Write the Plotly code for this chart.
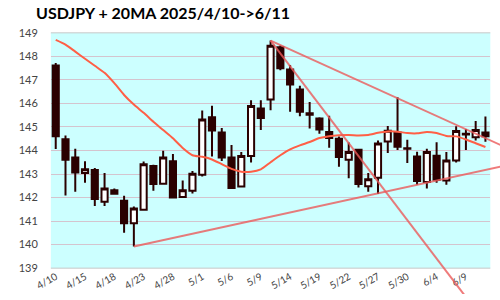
import plotly.graph_objects as go

# ---- data ----
dates = ["4/10","4/11","4/14","4/15","4/16","4/17","4/18","4/21","4/22","4/23",
         "4/24","4/25","4/28","4/29","4/30","5/1","5/2","5/5","5/6","5/7",
         "5/8","5/9","5/12","5/13","5/14","5/15","5/16","5/19","5/20","5/21",
         "5/22","5/23","5/26","5/27","5/28","5/29","5/30","6/2","6/3","6/4",
         "6/5","6/6","6/9","6/10","6/11"]
open_ = [147.61,144.48,143.70,143.04,143.17,141.82,142.31,141.87,140.91,141.48,
         143.34,142.59,143.54,142.02,142.29,142.97,145.41,144.76,143.70,142.47,
         143.77,145.78,146.17,148.39,147.44,146.59,145.52,145.36,144.79,144.50,
         143.61,144.03,142.48,142.84,144.38,144.76,144.10,143.74,142.66,143.78,
         142.72,143.57,144.71,144.56,144.76]
high = [147.72,144.64,144.07,143.54,143.26,143.04,142.39,142.08,141.62,143.53,
        143.39,143.99,143.85,142.72,143.13,145.70,145.90,144.96,144.23,143.94,
        146.13,146.13,148.67,148.46,147.63,146.75,146.06,145.41,145.48,144.60,
        144.34,144.03,143.04,144.43,145.04,146.26,144.46,143.95,144.07,144.35,
        143.94,145.03,144.91,145.25,145.44]
low = [144.06,142.09,142.25,142.63,141.64,141.64,142.13,140.50,139.92,141.48,
       142.29,142.59,142.00,141.98,142.17,142.90,143.74,143.55,142.37,142.47,
       143.49,144.87,145.71,147.41,145.65,145.46,144.93,144.71,144.12,143.31,
       142.82,142.43,142.25,142.15,143.89,144.02,143.47,142.54,142.39,142.63,
       142.54,143.49,144.02,144.42,144.37]
close = [144.61,143.61,143.07,143.20,141.94,142.39,142.16,140.91,141.54,143.42,
         142.58,143.70,142.00,142.31,143.01,145.32,144.85,143.70,142.41,143.77,
         145.89,145.38,148.45,147.50,146.80,145.65,145.58,144.89,144.53,143.72,
         143.94,142.58,142.78,144.30,144.84,144.16,144.07,142.70,143.94,142.76,
         143.57,144.83,144.68,144.87,144.61]
ma20 = [148.70,148.50,148.20,147.90,147.60,147.30,146.86,146.36,145.95,145.60,
        145.22,144.87,144.52,144.11,143.80,143.73,143.62,143.42,143.22,143.10,
        143.10,143.20,143.50,143.80,144.05,144.22,144.36,144.53,144.61,144.65,
        144.66,144.64,144.66,144.75,144.81,144.80,144.74,144.73,144.79,144.74,
        144.62,144.60,144.47,144.31,144.15]
tick_idx = [0,3,6,9,12,15,18,21,24,27,30,33,36,39,42]
tick_text = [dates[i] for i in tick_idx]

# trend lines (index, price)
support_x = [8, 47]
support_y = [139.92, 143.45]
resist_x = [22, 47]
resist_y = [148.67, 143.96]
steep_x = [22, 47]
steep_y = [148.67, 135.05]

x = list(range(len(dates)))

# ---- layout geometry ----
W, H = 500, 300
pl, pr, pt, pb = 36, 490, 27, 273
xr = [-0.5, len(dates) - 0.5]
yr = [139, 149]
xpx = (pr - pl) / (xr[1] - xr[0])
ypx = (pb - pt) / (yr[1] - yr[0])
x2r = [xr[0] - pl / xpx, xr[1] + (W - pr) / xpx]
y2r = [yr[0] - (H - pb) / ypx, yr[1] + pt / ypx]

dark = "#2a0000"
fig = go.Figure()
fig.add_trace(go.Candlestick(
    x=x, open=open_, high=high, low=low, close=close,
    increasing=dict(line=dict(color=dark, width=2), fillcolor="white"),
    decreasing=dict(line=dict(color=dark, width=2), fillcolor=dark),
    whiskerwidth=0, showlegend=False, xaxis="x", yaxis="y"))
fig.add_trace(go.Scatter(x=x, y=ma20, mode="lines",
    line=dict(color="rgb(255,95,70)", width=2, shape="spline", smoothing=0.6),
    showlegend=False, xaxis="x", yaxis="y"))

line_col = "rgba(235,90,90,0.8)"
for tx, ty in [(support_x, support_y), (resist_x, resist_y), (steep_x, steep_y)]:
    fig.add_trace(go.Scatter(x=tx, y=ty, mode="lines",
        line=dict(color=line_col, width=2), showlegend=False,
        xaxis="x2", yaxis="y2"))

font = "Lato, 'Open Sans', sans-serif"
fig.update_layout(
    width=W, height=H, autosize=False,
    margin=dict(l=0, r=0, t=0, b=0),
    paper_bgcolor="white", plot_bgcolor="rgba(0,0,0,0)",
    boxgap=0.1, boxgroupgap=0.3,
    font=dict(family=font, color="#444"),
    title=dict(text="<b>USDJPY + 20MA 2025/4/10->6/11</b>",
               x=pl / W, xanchor="left", y=1 - 13 / H, yanchor="middle",
               font=dict(size=16, color="black", family=font)),
    xaxis=dict(domain=[pl / W, pr / W], range=xr, rangeslider=dict(visible=False),
               tickmode="array", tickvals=tick_idx, ticktext=tick_text,
               tickangle=-30, tickfont=dict(size=10, color="#444"),
               showgrid=False, zeroline=False, showline=False, ticks="",
               anchor="y"),
    yaxis=dict(domain=[1 - pb / H, 1 - pt / H], range=yr, dtick=1,
               tickfont=dict(size=11, color="#444"), ticklabelstandoff=12,
               showgrid=True, gridcolor="rgb(212,196,206)", gridwidth=1,
               zeroline=False, showline=False, ticks="", anchor="x"),
    xaxis2=dict(domain=[0, 1], range=x2r, visible=False, anchor="y2"),
    yaxis2=dict(domain=[0, 1], range=y2r, visible=False, anchor="x2"),
    shapes=[dict(type="rect", xref="x domain", yref="y domain",
                 x0=0, x1=1, y0=0, y1=1, fillcolor="#ccffff",
                 line=dict(width=0), layer="below"),
            dict(type="line", xref="x domain", yref="y domain",
                 x0=0, x1=1, y0=1, y1=1, line=dict(color="#c8c8c8", width=1),
                 layer="below"),
            dict(type="line", xref="x domain", yref="y domain",
                 x0=0, x1=1, y0=0, y1=0, line=dict(color="#c8c8c8", width=1),
                 layer="below")],
)
fig.write_html("out.html")
